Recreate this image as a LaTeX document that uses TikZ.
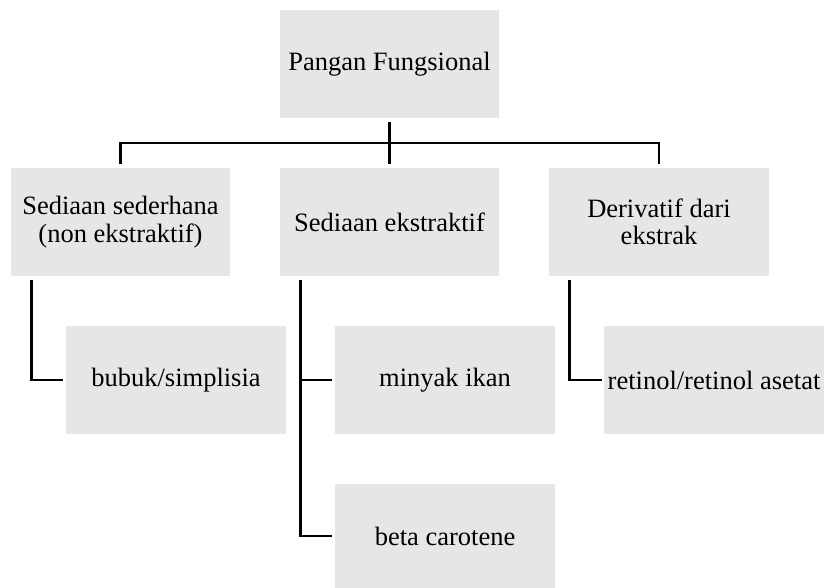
\documentclass[tikz,border=0pt]{standalone}
\usepackage{fontspec}
\setmainfont{Liberation Serif}
\usetikzlibrary{calc}
\definecolor{boxgray}{HTML}{E6E6E6}
\tikzset{
  box/.style={fill=boxgray, draw=none, minimum width=219pt, minimum height=108pt,
    align=center, inner sep=0pt, font=\fontsize{26.5}{27.5}\selectfont, text=black},
  conn/.style={draw=black, line width=2.8pt, line join=miter, line cap=butt}
}
\begin{document}
\begin{tikzpicture}[x=1pt,y=-1pt]
\useasboundingbox (0,0) rectangle (824,588);
\node[box] (top) at (389.5,64) {Pangan Fungsional};
\node[box] (b1) at (120.5,222) {Sediaan sederhana\\(non ekstraktif)};
\node[box] (b2) at (389.5,222) {Sediaan ekstraktif};
\node[box, minimum width=220pt] (b3) at (659,222) {Derivatif dari\\ekstrak};
\node[box, minimum width=220pt] (c1) at (176,380) {bubuk/simplisia};
\node[box, minimum width=220pt] (c2) at (445,380) {minyak ikan};
\node[box, minimum width=220pt, minimum height=104pt] (c3) at (445,536) {beta carotene};
\node[box, minimum width=220pt] (c4) at (714,380) {retinol/retinol asetat};
\coordinate (hub) at (389.5,143);
\draw[conn] ([yshift=-4pt]top.south) -- ([yshift=4pt]b2.north);
\draw[conn] ([yshift=4pt]b1.north) |- (hub) -| ([yshift=4pt]b3.north);
\draw[conn] ([shift={(21pt,-4pt)}]b1.south west) |- ([xshift=-3pt]c1.west);
\draw[conn] ([shift={(21pt,-4pt)}]b2.south west) |- ([xshift=-3pt]c3.west);
\draw[conn] ([xshift=21pt]b2.west |- c2.west) -- ([xshift=-3pt]c2.west);
\draw[conn] ([shift={(21pt,-4pt)}]b3.south west) |- ([xshift=-2pt]c4.west);
\end{tikzpicture}
\end{document}
